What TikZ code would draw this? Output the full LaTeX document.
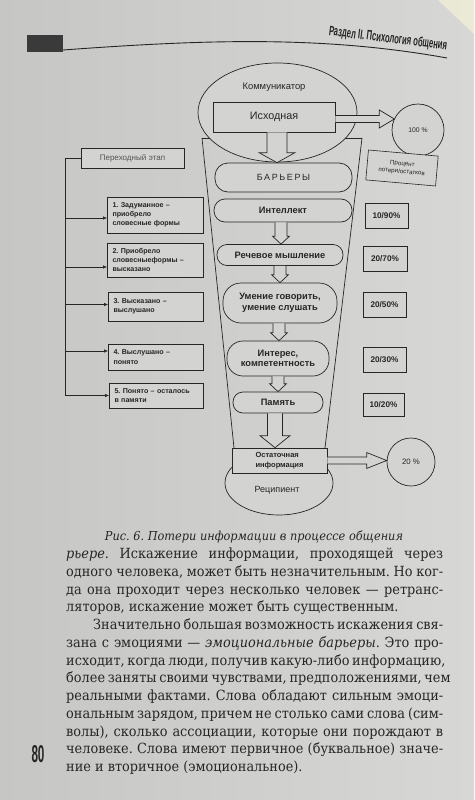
\documentclass[tikz,border=0pt]{standalone}
\usepackage{fontspec}
\setmainfont{DejaVu Serif}
\newfontfamily\dsans{Liberation Sans}
\newfontfamily\bodyfont{DejaVu Serif}[FakeStretch=0.92]
\usetikzlibrary{calc,arrows.meta,shapes.geometric}
\frenchspacing
\definecolor{paperL}{HTML}{C6C6C4}
\definecolor{paperR}{HTML}{D7D7D5}
\definecolor{paper}{HTML}{D3D3D1}
\definecolor{ink}{HTML}{262626}
\definecolor{headblk}{HTML}{3A3A3A}
\definecolor{grayink}{HTML}{555555}
\tikzset{
  ln/.style={draw=ink, line width=0.7pt},
  box/.style={draw=ink, fill=paper, line width=0.7pt, inner sep=0pt, text=ink},
  barr/.style={box, align=center, font=\dsans\bfseries\fontsize{9.3}{10.5}\selectfont},
  lbox/.style={draw=ink, fill=paper, line width=0.6pt, inner xsep=5pt, inner ysep=0pt,
    align=left, text=ink, font=\dsans\bfseries\fontsize{7.1}{9.2}\selectfont},
  rbox/.style={draw=ink, fill=paper, line width=0.6pt, inner sep=0pt, text=ink,
    font=\dsans\bfseries\fontsize{8.2}{9.5}\selectfont},
  harrow/.style={draw=ink, fill=paper, line width=0.7pt, line join=miter},
  conn/.style={draw=ink, line width=0.6pt, -{Latex[length=4pt,width=3.2pt]}},
  bodyline/.style={anchor=base west, inner sep=0pt, text=ink, font=\bodyfont\fontsize{14}{16}\selectfont},
  lab/.style={inner sep=0pt, text=ink}
}
\newcommand\jl[2][377pt]{\makebox[#1][s]{#2}}
% hollow arrow downwards: #1 source point, #2 target point, #3 shaft half width, #4 head half width, #5 head length
\newcommand\hollowdown[5]{\path[harrow] let \p1=(#1), \p2=(#2) in
  (\x1-#3pt,\y1) -- (\x1-#3pt,\y2+#5pt) -- (\x1-#4pt,\y2+#5pt) -- (\x1,\y2)
  -- (\x1+#4pt,\y2+#5pt) -- (\x1+#3pt,\y2+#5pt) -- (\x1+#3pt,\y1);}
% hollow arrow to the right
\newcommand\hollowright[5]{\path[harrow] let \p1=(#1), \p2=(#2) in
  (\x1,\y1+#3pt) -- (\x2-#5pt,\y1+#3pt) -- (\x2-#5pt,\y1+#4pt) -- (\x2,\y1)
  -- (\x2-#5pt,\y1-#4pt) -- (\x2-#5pt,\y1-#3pt) -- (\x1,\y1-#3pt);}
\begin{document}
\begin{tikzpicture}[x=1pt,y=-1pt]
\useasboundingbox (0,0) rectangle (474,800);
\shade[left color=paperL, right color=paperR] (0,0) rectangle (474,800);
\fill[white!85!yellow, opacity=0.5] (438,0) -- (474,0) -- (474,34) -- cycle;

% ---------- header ----------
\fill[headblk] (27,35) rectangle (63,52);
\coordinate (hl) at (63,50);
\coordinate (hr) at (447,58);
\draw[ink, line width=0.9pt] (hl) .. controls (200,40) and (320,35) .. (hr);
\node[lab, rotate=-7] (hdr) at (388,39)
  {\resizebox{119pt}{10pt}{\dsans\bfseries Раздел II. Психология общения}};

% ---------- funnel ----------
\coordinate (ftl) at (202,138);
\coordinate (ftr) at (362,138);
\coordinate (fbl) at (234,448);
\coordinate (fbr) at (325,448);
\draw[ln] (ftl) -- (ftr);
\draw[ln] (ftl) -- (fbl);
\draw[ln] (ftr) -- (fbr);

% ---------- communicator ----------
\node[box, ellipse, minimum width=159pt, minimum height=99pt] (comm) at (277.5,112.5) {};
\node[lab, font=\dsans\fontsize{9.4}{11}\selectfont] (commt) at (274,87) {Коммуникатор};
\node[box, minimum width=122pt, minimum height=30pt, font=\dsans\fontsize{10.8}{12}\selectfont] (isx) at (274,117) {Исходная};
\node[box, circle, minimum size=52pt, font=\dsans\fontsize{6.8}{8}\selectfont] (c100) at (418,130) {100 \%};

% ---------- barriers ----------
\node[box, rounded corners=13pt, minimum width=137pt, minimum height=29pt,
  font=\dsans\fontsize{9}{11}\selectfont\addfontfeature{LetterSpace=18}] (bar) at (283.5,177.5) {БАРЬЕРЫ};
\node[barr, rounded corners=11pt, minimum width=138pt, minimum height=23pt] (intl) at (283,210.5) {Интеллект};
\node[barr, rounded corners=10pt, minimum width=126pt, minimum height=21pt] (rech) at (280,255) {Речевое мышление};
\node[barr, rounded corners=18pt, minimum width=114pt, minimum height=40pt] (umen) at (280,303) {Умение говорить,\\умение слушать};
\node[barr, rounded corners=16pt, minimum width=102pt, minimum height=35pt] (intr) at (278,358.5) {Интерес,\\компетентность};
\node[barr, rounded corners=10pt, minimum width=90pt, minimum height=21pt] (pam) at (278,402.5) {Память};

% ---------- recipient ----------
\node[box, ellipse, minimum width=108pt, minimum height=64pt] (recp) at (279,483) {};
\node[lab, font=\dsans\fontsize{9}{11}\selectfont] (recpt) at (277,490) {Реципиент};
\node[box, minimum width=95pt, minimum height=25pt, align=left,
  font=\dsans\bfseries\fontsize{7.5}{10}\selectfont] (ost) at (279.5,460.5) {Остаточная\\информация};
\node[box, circle, minimum size=48pt, font=\dsans\fontsize{7.8}{9}\selectfont] (c20) at (411,462) {20 \%};

% ---------- hollow arrows ----------
\hollowdown{[xshift=3pt]isx.south}{bar.north}{10}{18}{10}
\hollowdown{[xshift=-2pt]intl.south}{rech.north}{6}{8.5}{8}
\hollowdown{rech.south}{umen.north}{6}{8.5}{8}
\hollowdown{[xshift=-1pt]umen.south}{intr.north}{6}{8.5}{8}
\hollowdown{intr.south}{pam.north}{6}{8.5}{8}
\hollowdown{[xshift=-3pt]pam.south}{ost.north}{7.5}{15}{12}
\hollowright{[yshift=-2pt]isx.east}{c100.154}{3.5}{9}{15}
\hollowright{ost.east}{c20.west}{3.5}{8}{20}

% ---------- left column ----------
\node[lbox, text width=93pt, minimum height=20pt, align=center, text=grayink,
  font=\dsans\fontsize{8}{9}\selectfont] (trans) at (132.5,158) {Переходный этап};
\node[lbox, text width=86pt, minimum height=36pt] (b1) at (155.5,215) {1. Задуманное –\\приобрело\\словесные формы};
\node[lbox, text width=86pt, minimum height=34pt] (b2) at (155.5,260) {2. Приобрело\\словесныеформы –\\высказано};
\node[lbox, text width=85pt, minimum height=29pt] (b3) at (156,306.5) {3. Высказано –\\выслушано};
\node[lbox, text width=85pt, minimum height=26pt] (b4) at (156,357) {4. Выслушано –\\понято};
\node[lbox, text width=84pt, minimum height=25pt] (b5) at (156.5,395.5) {5. Понято – осталось\\в памяти};
\coordinate (vx) at (65,0);
\draw[ln, line width=0.6pt] (trans.west) -- (trans.west -| vx) -- (b5.west -| vx);
\coordinate (a1) at ([yshift=-3pt]b1.west);
\coordinate (a2) at ([yshift=-7pt]b2.west);
\coordinate (a3) at ([yshift=2pt]b3.west);
\coordinate (a4) at ([yshift=6pt]b4.west);
\coordinate (a5) at (b5.west);
\foreach \a in {a1,a2,a3,a4,a5} {\draw[conn] (\a -| vx) -- (\a);}

% ---------- right column ----------
\node[rbox, rotate=-5, minimum width=70pt, minimum height=30pt, align=center,
  font=\dsans\fontsize{6.2}{7.8}\selectfont] (pct) at (402,168) {Процент\\потери/остатков};
\node[rbox, minimum width=43pt, minimum height=25pt] (r1) at (386.5,215.5) {10/90\%};
\node[rbox, minimum width=44pt, minimum height=25pt] (r2) at (385,258.5) {20/70\%};
\node[rbox, minimum width=43pt, minimum height=25pt] (r3) at (384.5,304.5) {20/50\%};
\node[rbox, minimum width=43pt, minimum height=25pt] (r4) at (384.5,359.5) {20/30\%};
\node[rbox, minimum width=41pt, minimum height=23pt] (r5) at (383.5,404.5) {10/20\%};

% ---------- caption ----------
\node[lab] (cap) at (254,537)
  {\resizebox{298pt}{!}{\bodyfont\fontsize{12}{14}\selectfont\itshape Рис. 6. Потери информации в процессе общения}};

% ---------- body text ----------
\node[bodyline] (l1) at (66,558.5) {\jl{\textit{рьере}. Искажение информации, проходящей через}};
\node[bodyline] (l2) at (66,576.25) {\jl{одного человека, может быть незначительным. Но ког-}};
\node[bodyline] (l3) at (66,594) {\jl{да она проходит через несколько человек — ретранс-}};
\node[bodyline] (l4) at (66,611.75) {ляторов, искажение может быть существенным.};
\node[bodyline] (l5) at (93,629.5) {\jl[350pt]{Значительно большая возможность искажения свя-}};
\node[bodyline] (l6) at (66,647.25) {\jl{зана с эмоциями — \textit{эмоциональные барьеры}. Это про-}};
\node[bodyline] (l7) at (66,665) {\jl{исходит, когда люди, получив какую-либо информацию,}};
\node[bodyline] (l8) at (66,682.75) {\jl{более заняты своими чувствами, предположениями, чем}};
\node[bodyline] (l9) at (66,700.5) {\jl{реальными фактами. Слова обладают сильным эмоци-}};
\node[bodyline] (l10) at (66,718.25) {\jl{ональным зарядом, причем не столько сами слова (сим-}};
\node[bodyline] (l11) at (66,736) {\jl{волы), сколько ассоциации, которые они порождают в}};
\node[bodyline] (l12) at (66,753.75) {\jl{человеке. Слова имеют первичное (буквальное) значе-}};
\node[bodyline] (l13) at (66,771.5) {ние и вторичное (эмоциональное).};

% ---------- page number ----------
\node[lab] (pg) at (38,754) {\resizebox{13pt}{17pt}{\dsans\bfseries 80}};
\end{tikzpicture}
\end{document}
